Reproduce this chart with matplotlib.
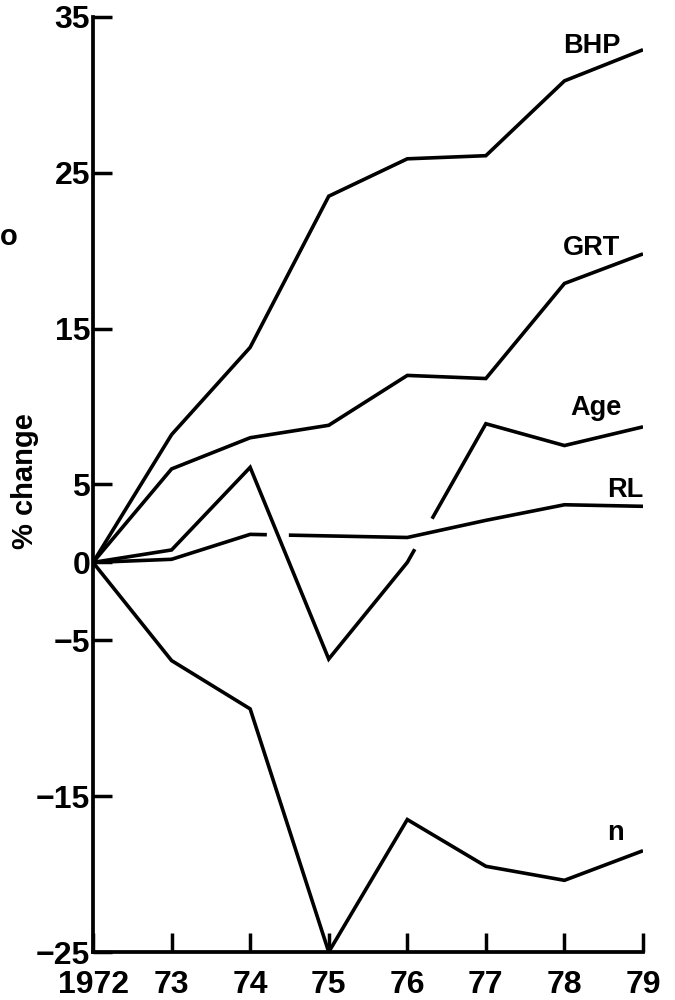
import numpy as np
import matplotlib
matplotlib.use("Agg")
import matplotlib.pyplot as plt

plt.rcParams['font.family'] = ['Liberation Sans', 'DejaVu Sans']
plt.rcParams['font.weight'] = 'bold'

years = [1972, 1973, 1974, 1975, 1976, 1977, 1978, 1979]
year_labels = ["1972", "73", "74", "75", "76", "77", "78", "79"]
y_ticks = [-25, -15, -5, 0, 5, 15, 25, 35]

# % change since 1972
bhp = [0, 8.2, 13.8, 23.5, 25.9, 26.1, 30.9, 32.9]
grt = [0, 6.0, 8.0, 8.8, 12.0, 11.8, 17.9, 19.8]
age = [0, 0.8, 6.1, -6.2, 0.0, 8.9, 7.5, 8.7]
rl = [0, 0.2, 1.8, 1.7, 1.6, 2.7, 3.7, 3.6]
n = [0, -6.3, -9.4, -25.0, -16.5, -19.5, -20.4, -18.5]


def crossing(x, a, b, i):
    # x where series a and b cross between points i and i+1
    d0 = a[i] - b[i]
    d1 = a[i + 1] - b[i + 1]
    t = d0 / (d0 - d1)
    return x[i] + t * (x[i + 1] - x[i])


def plot_broken(ax, x, y, xc, half, **kw):
    # draw line with a small gap around xc (the "under" line at a crossing)
    x = np.asarray(x, float)
    y = np.asarray(y, float)
    lo, hi = xc - half, xc + half
    left = x < lo
    right = x > hi
    ax.plot(np.append(x[left], lo), np.append(y[left], np.interp(lo, x, y)), **kw)
    ax.plot(np.insert(x[right], 0, hi), np.insert(y[right], 0, np.interp(hi, x, y)), **kw)


fig = plt.figure(figsize=(6.75, 10), dpi=100)
ax = fig.add_axes([0.1378, 0.048, 0.9526 - 0.1378, 0.983 - 0.048])

style = dict(color='black', lw=2.6, solid_capstyle='butt', solid_joinstyle='miter')

ax.plot(years, bhp, **style)
ax.plot(years, grt, **style)
ax.plot(years, n, **style)

# Age passes over RL going down (74-75), under it going up (76-77)
x_down = crossing(years, age, rl, 2)
x_up = crossing(years, age, rl, 4)
plot_broken(ax, years, rl, x_down, 0.14, **style)
plot_broken(ax, years, age, x_up, 0.11, **style)

lab = dict(fontsize=19.5, fontweight='bold', ha='left', va='baseline')
ax.text(1977.98, 32.7, "BHP", **lab)
ax.text(1977.98, 19.7, "GRT", **lab)
ax.text(1978.08, 9.45, "Age", **lab)
ax.text(1978.54, 4.2, "RL", **lab)
ax.text(1978.54, -17.8, "n", **lab)

ax.set_xlim(1972, 1979)
ax.set_ylim(-25, 35)
ax.set_xticks(years)
ax.set_xticklabels(year_labels)
ax.set_yticks(y_ticks)

for s in ['top', 'right']:
    ax.spines[s].set_visible(False)
for s in ['left', 'bottom']:
    ax.spines[s].set_linewidth(2.7)

ax.tick_params(axis='both', direction='in', length=14, width=2.5, labelsize=23)
ax.tick_params(axis='y', pad=2)
ax.tick_params(axis='x', pad=13)

ax.set_ylabel("% change", fontsize=21, fontweight='bold', va='center')
ax.yaxis.set_label_coords(-0.124, 0.504)

# letter at the left edge of the scan
fig.text(0.0, 1 - 0.237, "o", fontsize=21, fontweight='bold', va='center', ha='left')

fig.savefig("out.png", dpi=100)
